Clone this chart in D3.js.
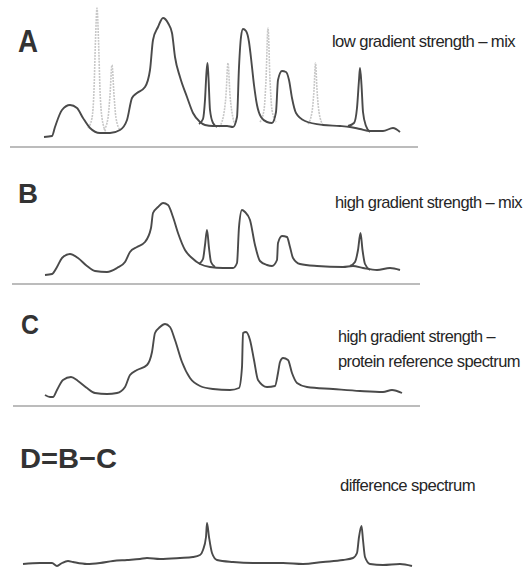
<!DOCTYPE html>
<html>
<head>
<meta charset="utf-8">
<script src="https://cdn.jsdelivr.net/npm/d3@7"></script>
<style>
  body { margin: 0; background: #fff; }
  svg { display: block; }
</style>
</head>
<body>
<script>
// [position, intensity] pairs (arbitrary units)

// A: low gradient strength - mix
const broadA = [[34,10],[42,11],[45,20],[52,37],[60,42],[67,39],[73,29],[80,19],[90,14],[100,14],
  [110,17],[117,27],[122,49],[127,54],[135,60],[140,77],[143,107],[148,120],[153,129],[158,124],
  [162,114],[165,90],[170,70],[177,50],[183,34],[190,25],[195,22],[203,21],[217,21],[223,20],
  [227,30],[229,80],[231,110],[233,118],[236,116],[239,105],[241,89],[244,62],[247,42],[251,30],
  [257,25],[262,24],[266,35],[268,67],[272,76],[276,75],[279,67],[282,49],[286,34],[295,26],
  [313,22],[330,21],[340,20],[350,18],[360,16],[373,16],[383,19],[390,15]];
const spikesA = [
  [[189,23],[193,28],[195,47],[196.5,75],[197.5,84],[198.5,69],[200,37],[203,24],[207,20]],
  [[338,21],[344,24],[347,39],[349,67],[350,79],[351.5,62],[353,35],[356,21],[360,15]]
];
// light grey reference peaks overlaid on A
const refPeaksA = [
  [[78,19],[82,29],[84,57],[85.5,107],[87,139],[88.5,107],[90,57],[92,29],[96,15]],
  [[94,17],[98,29],[100,52],[102,82],[104,52],[106,29],[110,17]],
  [[209,20],[213,29],[216,52],[218,84],[220,52],[223,29],[226,21]],
  [[250,25],[254,37],[256,67],[258,119],[260,67],[262,37],[266,25]],
  [[298,23],[302,35],[304,57],[305.5,84],[307,57],[309,35],[313,22]]
];

// B: high gradient strength - mix
const broadB = [[35,9],[42,10],[47,17],[52,26],[60,30],[68,26],[77,18],[85,13],[97,12],[107,16],
  [115,22],[120,32],[127,37],[135,42],[141,56],[143,71],[148,77],[153,81],[158,79],[163,67],
  [168,51],[175,34],[182,26],[190,20],[200,17],[213,16],[223,16],[227,21],[229,57],[232,74],
  [235,72],[240,64],[245,39],[250,23],[257,19],[262,18],[267,24],[268,41],[272,48],[277,47],
  [280,37],[283,26],[290,20],[307,18],[333,17],[343,18],[353,16],[367,14],[380,16],[390,14]];
const spikesB = [
  [[189,20],[193,25],[195,39],[197,54],[199,36],[201,22],[205,17]],
  [[340,18],[345,22],[348,34],[350.5,51],[352.5,34],[355,20],[360,14]]
];

// C: high gradient strength - protein reference spectrum
const broadC = [[35,11],[40,9],[43,9],[47,16],[53,26],[61,29],[68,25],[77,18],[85,13],[97,12],
  [107,13],[115,19],[120,31],[127,36],[137,41],[142,54],[145,73],[150,79],[155,82],[160,79],
  [165,66],[172,44],[180,28],[190,20],[203,17],[220,16],[229,18],[232,39],[233,73],[236,74],
  [240,66],[244,46],[248,26],[257,19],[265,20],[268,33],[270,44],[273,48],[278,46],[282,33],
  [287,23],[297,19],[323,17],[350,15],[373,14],[382,16],[392,13]];

// D = B - C: difference spectrum
const broadD = [[13,6],[30,7],[42,7],[47,4],[52,7],[58,9],[63,8],[77,6],[90,7],[103,9],
  [117,10],[130,11],[137,12],[150,11],[170,12],[183,13],[190,15],[193,20],[196,33],[197,47],
  [199,33],[202,17],[207,10],[223,8],[243,7],[273,7],[293,6],[313,8],[333,10],[343,12],
  [347,17],[349,33],[351.5,44],[353,30],[355,13],[360,6],[373,5],[390,6],[402,4]];

const panelLabels = ['A', 'B', 'C', 'D=B\u2212C'];
const panelNotes = [
  ['low gradient strength \u2013 mix'],
  ['high gradient strength \u2013 mix'],
  ['high gradient strength \u2013', 'protein reference spectrum'],
  ['difference spectrum']
];

// layout
const W = 527, H = 572;
const panels = [
  { base: 147, axis: [0, 408], broad: broadA, spikes: spikesA, refs: refPeaksA,
    lab: { x: 18, y: 52, size: 31, len: 20 },
    notes: [{ x: 332, y: 47, len: 183 }] },
  { base: 284, axis: [2, 410], broad: broadB, spikes: spikesB, refs: [],
    lab: { x: 18, y: 203, size: 28, len: 20 },
    notes: [{ x: 335, y: 208, len: 187 }] },
  { base: 406, axis: [3, 410], broad: broadC, spikes: [], refs: [],
    lab: { x: 21, y: 334, size: 27, len: 18 },
    notes: [{ x: 338, y: 342, len: 157 }, { x: 338, y: 367, len: 182 }] },
  { base: 570, axis: null, broad: broadD, spikes: [], refs: [],
    lab: { x: 20, y: 468, size: 28, len: 97 },
    notes: [{ x: 340, y: 491, len: 135 }] }
];

const svg = d3.select('body').append('svg')
    .attr('width', W)
    .attr('height', H);

const x = d3.scaleLinear().domain([0, 410]).range([10, 420]);

panels.forEach((p, i) =>
{
  const y = d3.scaleLinear().domain([0, 140]).range([p.base, p.base - 140]);
  const line = d3.line()
      .x(d => x(d[0]))
      .y(d => y(d[1]))
      .curve(d3.curveMonotoneX);

  const g = svg.append('g').attr('class', 'panel panel-' + i);

  // grey reference peaks behind
  g.selectAll('path.ref')
    .data(p.refs)
    .join('path')
      .attr('class', 'ref')
      .attr('d', line)
      .attr('fill', 'none')
      .attr('stroke', '#c8c8c8')
      .attr('stroke-width', 1.6)
      .attr('stroke-dasharray', '2,1');

  if (p.axis)
  {
    g.append('line')
        .attr('x1', x(p.axis[0]))
        .attr('x2', x(p.axis[1]))
        .attr('y1', y(0))
        .attr('y2', y(0))
        .attr('stroke', '#7a7a7a')
        .attr('stroke-width', 1.2);
  }

  g.append('path')
      .datum(p.broad)
      .attr('d', line)
      .attr('fill', 'none')
      .attr('stroke', '#4a4a4a')
      .attr('stroke-width', 1.9)
      .attr('stroke-linejoin', 'round');

  g.selectAll('path.spike')
    .data(p.spikes)
    .join('path')
      .attr('class', 'spike')
      .attr('d', line)
      .attr('fill', 'none')
      .attr('stroke', '#4a4a4a')
      .attr('stroke-width', 1.9)
      .attr('stroke-linejoin', 'round');

  g.append('text')
      .attr('x', p.lab.x)
      .attr('y', p.lab.y)
      .attr('font-family', 'Liberation Sans, Arial, sans-serif')
      .attr('font-weight', 'bold')
      .attr('font-size', p.lab.size)
      .attr('fill', '#333')
      .attr('textLength', p.lab.len)
      .attr('lengthAdjust', 'spacingAndGlyphs')
      .text(panelLabels[i]);

  p.notes.forEach((n, j) =>
  {
    g.append('text')
        .attr('x', n.x)
        .attr('y', n.y)
        .attr('font-family', 'Liberation Sans Narrow, Arial Narrow, Liberation Sans, sans-serif')
        .attr('font-stretch', 'condensed')
        .attr('font-size', 17)
        .attr('letter-spacing', -0.6)
        .attr('fill', '#262626')
        .attr('textLength', n.len)
        .attr('lengthAdjust', 'spacingAndGlyphs')
        .text(panelNotes[i][j]);
  });
});
</script>
</body>
</html>
